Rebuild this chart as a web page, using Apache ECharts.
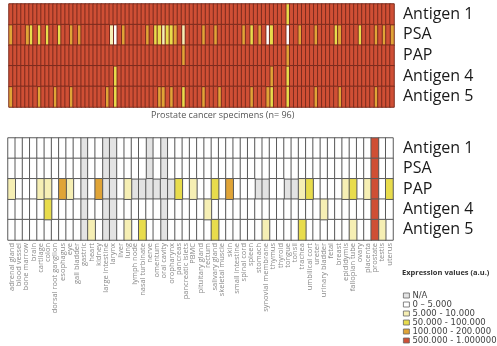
<!DOCTYPE html>
<html><head><meta charset="utf-8">
<script src="https://cdn.jsdelivr.net/npm/echarts@6/dist/echarts.min.js"></script>
<style>html,body{margin:0;padding:0;background:#fff}#c{width:497px;height:346px}</style>
</head><body><div id="c"></div>
<script>
// Row names
const antigens = ['Antigen 1', 'PSA', 'PAP', 'Antigen 4', 'Antigen 5'];
// Expression classes (legend), index = class code used in the data arrays
const classNames = ['N/A', '0 – 5.000', '5.000 - 10.000', '50.000 - 100.000', '100.000 - 200.000', '500.000 - 1.000000'];
const classColors = ['#e3e3e3', '#ffffff', '#f6efb4', '#e8dc4c', '#e0a437', '#cf4f35'];

// Top panel: 96 prostate cancer specimens, class codes per antigen
const specimens = Array.from({length: 96}, (_, i) => 'S' + (i + 1));
const specAntigen1 = [5,5,5,5,5,5,5,5,5,5,5,5,5,5,5,5,5,5,5,5,5,5,5,5,5,5,5,5,5,5,5,5,5,5,5,5,5,5,5,5,5,5,5,5,5,5,5,5,5,5,5,5,5,5,5,5,5,5,5,5,5,5,5,5,5,5,5,5,5,3,5,5,5,5,5,5,5,5,5,5,5,5,5,5,5,5,5,5,5,5,5,5,5,5,5,5];
const specPSA      = [4,5,5,5,4,3,5,3,5,3,5,5,3,5,5,4,5,4,5,5,5,5,5,5,5,2,1,5,4,5,5,5,5,5,4,5,3,3,2,3,3,4,5,2,5,5,5,5,4,5,5,4,5,5,5,5,5,5,4,5,3,5,4,5,1,3,5,5,5,1,5,5,4,5,5,5,4,5,5,5,5,3,4,5,5,5,5,3,5,5,5,4,5,4,5,4];
const specPAP      = [5,5,5,5,5,5,5,5,5,5,5,5,5,5,5,5,5,5,5,5,5,5,5,5,5,5,5,5,5,5,5,5,5,5,5,5,5,5,5,5,5,5,5,4,5,5,5,5,5,5,5,5,5,5,5,5,5,5,5,5,5,5,5,5,5,5,5,5,5,4,5,5,5,5,5,5,5,5,5,5,5,5,5,5,5,5,5,5,5,5,5,5,5,5,5,5];
const specAntigen4 = [5,5,5,5,5,5,5,5,5,5,5,5,5,5,5,5,5,5,5,5,5,5,5,5,5,5,3,5,5,5,5,5,5,5,5,5,5,5,5,5,5,5,5,5,5,5,5,5,5,5,5,5,5,5,5,5,5,5,5,5,5,5,5,5,5,4,5,5,5,3,5,5,5,5,5,5,5,5,5,5,5,5,5,5,5,5,5,5,5,5,5,5,5,5,5,5];
const specAntigen5 = [4,5,5,5,5,5,5,4,5,5,5,4,5,5,5,4,5,5,5,5,5,5,5,5,4,5,3,5,5,5,5,5,5,5,5,5,5,4,4,5,4,5,5,3,5,5,5,5,4,5,5,5,4,5,5,5,5,5,5,5,4,5,5,5,4,3,5,5,5,3,5,5,5,5,5,5,4,5,5,5,5,5,4,5,5,5,5,5,5,5,5,4,5,5,5,5];

// Bottom panel: normal tissues
const tissues = ['adrenal gland','blood vessel','bone marrow','brain','cartilage','colon','dorsal root ganglion','esophagus','eye','gall bladder','gastric','heart','kidney','large intestine','larynx','liver','lung','lymph node','nasal turbinate','nerve','omentum','oral cavity','oropharynx','pancreas','pancreatic islets','PBMC','pituitary gland','rectum','salivary gland','skeletal muscle','skin','small intestine','spinal cord','spleen','stomach','synovial membrane','thymus','thyroid','tongue','tonsil','trachea','umbilical cort','ureter','urinary bladder','fetal','breast','epididymis','fallopian tube','ovary','placenta','prostate','testis','uterus'];
const tisAntigen1 = [1,1,1,1,1,1,1,1,1,1,0,1,1,0,0,1,1,1,1,0,1,0,1,1,1,1,1,1,1,1,1,1,1,1,1,1,1,1,1,1,1,1,1,1,1,1,1,1,1,1,5,1,1];
const tisPSA      = [1,1,1,1,1,1,1,1,1,1,0,1,1,0,0,1,1,1,1,0,1,0,1,1,1,1,1,1,1,1,1,1,1,1,1,1,1,1,1,1,1,1,1,1,1,1,1,1,1,1,5,1,1];
const tisPAP      = [2,1,1,1,2,2,1,4,2,1,0,1,4,0,0,1,2,0,0,0,0,0,0,3,1,2,1,1,3,1,4,1,1,1,0,0,1,1,0,0,2,3,1,1,1,1,2,3,1,2,5,1,3];
const tisAntigen4 = [1,1,1,1,1,3,1,1,1,1,0,1,1,0,0,1,1,1,1,1,1,0,1,1,1,1,1,2,1,1,1,1,1,1,1,1,1,1,1,1,1,1,1,2,1,1,1,1,1,1,5,1,1];
const tisAntigen5 = [1,1,1,1,1,1,1,1,1,1,0,2,1,0,0,1,2,1,3,1,1,0,1,1,1,1,1,1,3,1,1,1,1,1,1,2,1,1,1,1,3,1,1,1,1,1,1,2,1,1,5,2,1];

const specRows = [specAntigen1, specPSA, specPAP, specAntigen4, specAntigen5];
const tisRows = [tisAntigen1, tisPSA, tisPAP, tisAntigen4, tisAntigen5];

function buildSeries(rows, gridIdx, borderColor, borderWidth) {
  return classNames.map((name, c) => {
    const pts = [];
    rows.forEach((row, y) => row.forEach((v, x) => { if (v === c) pts.push([x, y, v]); }));
    return {
      type: 'heatmap', name: name, xAxisIndex: gridIdx, yAxisIndex: gridIdx,
      data: pts, silent: true, emphasis: {disabled: true},
      itemStyle: {color: classColors[c], borderColor: borderColor, borderWidth: borderWidth}
    };
  });
}

const chart = echarts.init(document.getElementById('c'), null, {renderer: 'canvas'});
chart.setOption({
  animation: false,
  backgroundColor: '#fff',
  textStyle: {fontFamily: 'Open Sans'},
  title: [
    {text: 'Prostate cancer specimens (n= 96)', left: 151, top: 111, padding: 0,
     textStyle: {fontSize: 9, fontWeight: 'normal', color: '#555', fontFamily: 'Open Sans'}},
    {text: 'Expression values (a.u.)', left: 402, top: 269, padding: 0,
     textStyle: {fontSize: 7.5, fontWeight: 'bold', color: '#333', fontFamily: 'Open Sans'}}
  ],
  grid: [
    {left: 9, top: 4, width: 385, height: 103},
    {left: 8, top: 138, width: 385, height: 102}
  ],
  xAxis: [
    {type: 'category', gridIndex: 0, data: specimens, axisLine: {show: false}, axisTick: {show: false}, axisLabel: {show: false}, splitLine: {show: false}},
    {type: 'category', gridIndex: 1, data: tissues, axisLine: {show: false}, axisTick: {show: false}, splitLine: {show: false},
     axisLabel: {rotate: 90, interval: 0, fontSize: 7.5, color: '#888', margin: 3, fontFamily: 'Open Sans'}}
  ],
  yAxis: [
    {type: 'category', gridIndex: 0, data: antigens, inverse: true, position: 'right', axisLine: {show: false}, axisTick: {show: false}, splitLine: {show: false},
     axisLabel: {interval: 0, fontSize: 16, color: '#1a1a1a', margin: 9, fontFamily: 'Open Sans'}},
    {type: 'category', gridIndex: 1, data: antigens, inverse: true, position: 'right', axisLine: {show: false}, axisTick: {show: false}, splitLine: {show: false},
     axisLabel: {interval: 0, fontSize: 16, color: '#1a1a1a', margin: 10, fontFamily: 'Open Sans'}}
  ],
  legend: {
    orient: 'vertical', left: 403, top: 291, padding: 0, height: 56, icon: 'rect', itemWidth: 6, itemHeight: 5, itemGap: 0,
    selectedMode: false,
    textStyle: {fontSize: 8.5, lineHeight: 9, color: '#444', fontFamily: 'DejaVu Sans', padding: [0, 0, 0, -2]},
    data: classNames.map((n, c) => ({name: n, itemStyle: {color: classColors[c], borderColor: '#666', borderWidth: 0.8}}))
  },
  series: [].concat(buildSeries(specRows, 0, '#7c2c1e', 1), buildSeries(tisRows, 1, '#5a5a5a', 1))
});
</script></body></html>
